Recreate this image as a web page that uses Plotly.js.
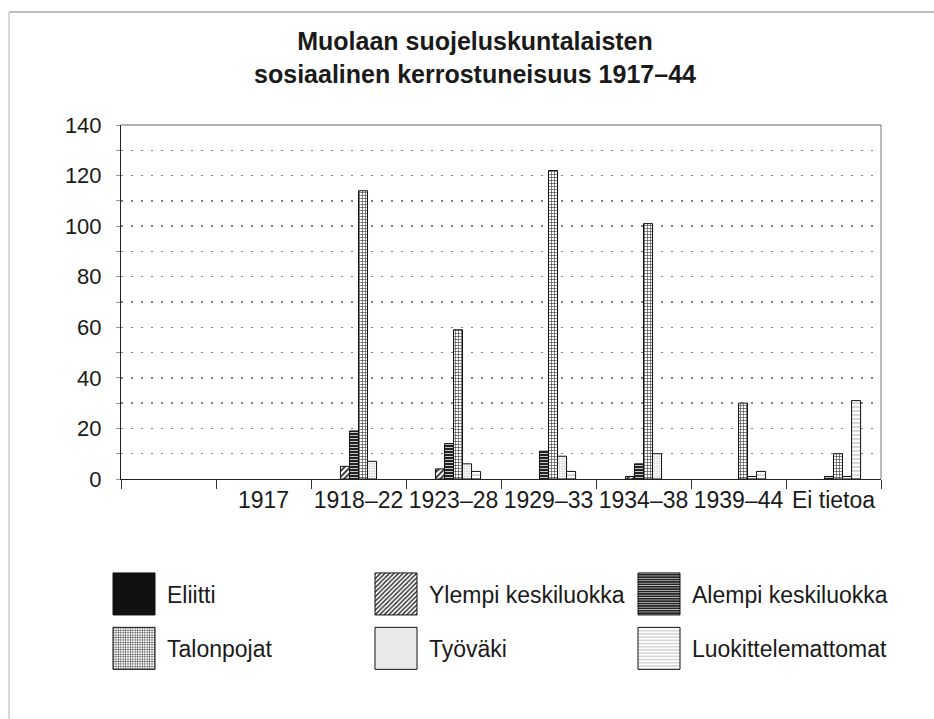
<!DOCTYPE html>
<html>
<head>
<meta charset="utf-8">
<script src="https://cdn.plot.ly/plotly-3.0.1.min.js"></script>
<style>
  html, body { margin: 0; padding: 0; background: #fff; }
  #chart { width: 934px; height: 719px; }
</style>
</head>
<body>
<div id="chart"></div>
<script>
// Periods (the first slot is an unlabeled empty column)
const categories = [' ', '1917', '1918–22', '1923–28', '1929–33', '1934–38', '1939–44', 'Ei tietoa'];

// Number of members per social class and joining period
const eliitti            = [0, 0, 0,   0,   0,   0,   0,  0];
const ylempiKeskiluokka  = [0, 0, 5,   4,   0,   1,   0,  0];
const alempiKeskiluokka  = [0, 0, 19,  14,  11,  6,   0,  1];
const talonpojat         = [0, 0, 114, 59,  122, 101, 30, 10];
const tyovaki            = [0, 0, 7,   6,   9,   10,  1,  1];
const luokittelemattomat = [0, 0, 0,   3,   3,   0,   3,  31];

const seriesNames = ['Eliitti', 'Ylempi keskiluokka', 'Alempi keskiluokka',
                     'Talonpojat', 'Työväki', 'Luokittelemattomat'];
const seriesValues = [eliitti, ylempiKeskiluokka, alempiKeskiluokka,
                      talonpojat, tyovaki, luokittelemattomat];

// Fill styles: solid, hatched and ruled patterns in black and grey
const fills = [
  { color: '#111', pattern: { shape: '' } },
  { color: '#fff', pattern: { shape: '/', fgcolor: '#222', bgcolor: '#fff', size: 4, solidity: 0.45 } },
  { color: '#222', pattern: { shape: '-', fgcolor: '#d8d8d8', bgcolor: '#222', size: 3, solidity: 0.3 } },
  { color: '#fff', pattern: { shape: '+', fgcolor: '#333', bgcolor: '#fff', size: 3, solidity: 0.35 } },
  { color: '#fff', pattern: { shape: '+', fgcolor: '#9a9a9a', bgcolor: '#fff', size: 2.5, solidity: 0.2 } },
  { color: '#fff', pattern: { shape: '-', fgcolor: '#777', bgcolor: '#fff', size: 4, solidity: 0.15 } }
];
// Legend is laid out in three columns of two rows
const legendSlots = ['legend', 'legend2', 'legend3', 'legend', 'legend2', 'legend3'];

const FONT = 'Liberation Sans, Arial, Helvetica, sans-serif';
const INK = '#1a1a1a';
const OUTLINE = '#111';

const traces = seriesNames.map((name, i) => ({
  type: 'bar',
  name: name,
  x: categories,
  y: seriesValues[i],
  legend: legendSlots[i],
  legendgroup: 'g' + i,
  marker: {
    color: fills[i].color,
    pattern: fills[i].pattern,
    // empty bars get no outline so the baseline stays clean
    line: { color: OUTLINE, width: seriesValues[i].map(v => (v > 0 ? 1 : 0)) }
  },
  hoverinfo: 'none'
}));

// Plot area in pixels: x 121..881, y 125..479
const W = 934, H = 719, L = 121, R = 881, T = 125, B = 479;
const px2x = p => (p - L) / (R - L);
const px2y = p => (B - p) / (B - T);

const legendBase = {
  xref: 'paper', yref: 'paper',
  xanchor: 'left', yanchor: 'top',
  y: px2y(572.5),
  font: { family: FONT, size: 23, color: INK },
  itemwidth: 60,
  tracegroupgap: 21.5,
  bgcolor: 'rgba(0,0,0,0)',
  borderwidth: 0
};

const layout = {
  width: W, height: H,
  margin: { l: L, r: W - R, t: T, b: H - B, pad: 0 },
  paper_bgcolor: '#fff',
  plot_bgcolor: '#fff',
  font: { family: FONT, color: INK },
  title: {
    text: 'Muolaan suojeluskuntalaisten<br>sosiaalinen kerrostuneisuus 1917–44',
    font: { family: FONT, size: 25, weight: 'bold', color: INK },
    xref: 'container', x: 475 / W, xanchor: 'center',
    yref: 'container', y: 1 - 50 / H, yanchor: 'top'
  },
  barmode: 'group',
  bargap: 0.43,
  bargroupgap: 0,
  xaxis: {
    type: 'category',
    categoryorder: 'array',
    categoryarray: categories,
    range: [-0.5, categories.length - 0.5],
    tickson: 'boundaries',
    tickangle: 0,
    ticks: 'outside', ticklen: 9, tickwidth: 1, tickcolor: '#333',
    showline: true, linecolor: '#222', linewidth: 1,
    showgrid: false, zeroline: false,
    tickfont: { family: FONT, size: 23, color: INK }
  },
  yaxis: {
    range: [0, 140],
    dtick: 20,
    ticks: 'outside', ticklen: 4, tickcolor: '#999',
    ticklabelstandoff: 10,
    showline: true, linecolor: '#222', linewidth: 1,
    showgrid: true, gridcolor: '#808080', griddash: '1.5px,8.5px', gridwidth: 1.5,
    zeroline: false,
    minor: { dtick: 10, showgrid: true, gridcolor: '#808080', griddash: '1.5px,8.5px', gridwidth: 1.5,
             ticks: 'outside', ticklen: 4, tickcolor: '#999' },
    tickfont: { family: FONT, size: 22, color: INK }
  },
  // legend labels sit 70px right of each legend's left edge
  legend:  Object.assign({}, legendBase, { x: px2x(97) }),
  legend2: Object.assign({}, legendBase, { x: px2x(359) }),
  legend3: Object.assign({}, legendBase, { x: px2x(622) }),
  shapes: [
    // top and right edges of the plotting frame
    { type: 'line', xref: 'paper', yref: 'paper', x0: 0, x1: 1, y0: 1, y1: 1,
      line: { color: '#666', width: 1 } },
    { type: 'line', xref: 'paper', yref: 'paper', x0: 1, x1: 1, y0: 0, y1: 1,
      line: { color: '#777', width: 1 } },
    // page rule along the top and left edges
    { type: 'line', xref: 'paper', yref: 'paper', x0: px2x(9), x1: px2x(W), y0: px2y(12), y1: px2y(12),
      line: { color: '#aaa', width: 1.5 } },
    { type: 'line', xref: 'paper', yref: 'paper', x0: px2x(9), x1: px2x(9), y0: px2y(12), y1: px2y(H),
      line: { color: '#ccc', width: 1.5 } }
  ]
};

// Large outlined square legend swatches ending just left of the label
function styleLegend(gd) {
  gd.querySelectorAll('g.infolayer > g[class^="legend"]').forEach(box => {
    box.querySelectorAll('.scrollbox').forEach(s => s.removeAttribute('clip-path'));
    box.querySelectorAll('.traces').forEach(t => {
      const p = t.querySelector('.legendpoints path');
      if (!p) return;
      p.setAttribute('d', 'M21,21H-21V-21H21Z');
      p.setAttribute('transform', 'translate(37,0)');
      p.style.stroke = OUTLINE;
      p.style.strokeWidth = '1px';
      p.style.strokeOpacity = '1';
    });
  });
}

Plotly.newPlot('chart', traces, layout, { staticPlot: true }).then(gd => {
  gd.on('plotly_afterplot', () => styleLegend(gd));
  styleLegend(gd);
  setTimeout(() => styleLegend(gd), 50);
  setTimeout(() => styleLegend(gd), 300);
});
</script>
</body>
</html>
